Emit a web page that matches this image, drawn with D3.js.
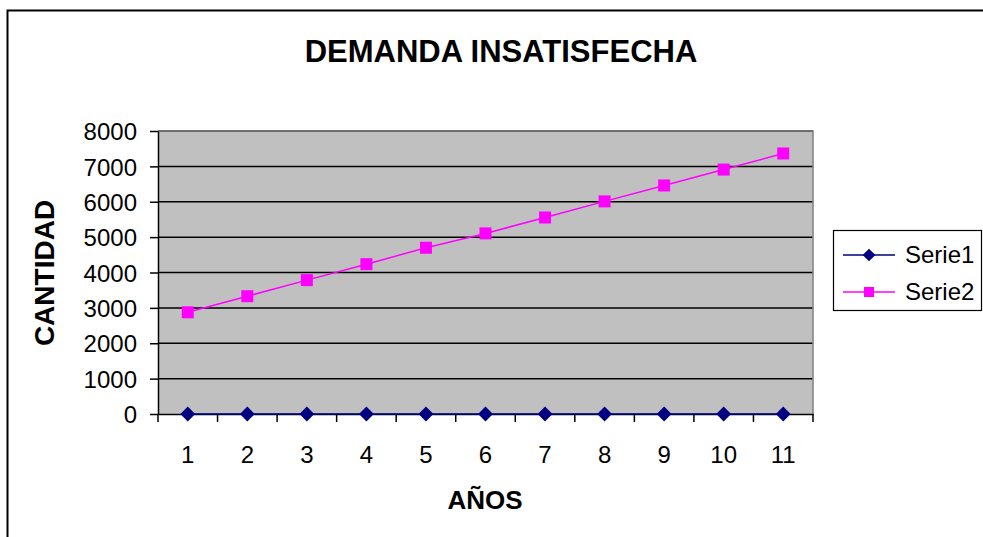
<!DOCTYPE html>
<html><head><meta charset="utf-8">
<script src="https://cdn.jsdelivr.net/npm/d3@7"></script>
<style>body{margin:0;background:#fff}svg{display:block;font-family:"Liberation Sans",Arial,sans-serif}</style>
</head><body><svg id="c" width="983" height="537"></svg>
<script>
const categories = [1,2,3,4,5,6,7,8,9,10,11];
const serie1 = [0,0,0,0,0,0,0,0,0,0,0];
const serie2 = [2875,3330,3785,4235,4700,5105,5555,6010,6460,6910,7365];
const yTicks = [0,1000,2000,3000,4000,5000,6000,7000,8000];
const seriesNames = ["Serie1","Serie2"];

const FF = "Liberation Sans, Arial, sans-serif";
const svg = d3.select("#c");
svg.append("rect").attr("x",7.5).attr("y",10.5).attr("width",1000).attr("height",600)
  .attr("fill","#fff").attr("stroke","#000").attr("stroke-width",2);

const L=158,R=813,T=131,B=414;
const x = d3.scaleBand().domain(categories).range([L,R]);
const y = d3.scaleLinear().domain([0,8000]).range([B,T]);

svg.append("rect").attr("x",L).attr("y",T).attr("width",R-L).attr("height",B-T).attr("fill","#c0c0c0");
// gridlines
svg.append("g").selectAll("line").data(yTicks.filter(d=>d>0)).join("line")
  .attr("x1",L).attr("x2",R).attr("y1",d=>y(d)).attr("y2",d=>y(d))
  .attr("stroke","#000").attr("stroke-width",1.5);
// top/right border gray
svg.append("path").attr("d",`M${L},${T}H${R}V${B}`).attr("fill","none").attr("stroke","#808080").attr("stroke-width",1.5);

// y axis
const ya = svg.append("g").attr("transform",`translate(${L},0)`)
  .call(d3.axisLeft(y).tickValues(yTicks).tickFormat(d3.format("d")).tickSize(8).tickPadding(13).tickSizeOuter(0));
ya.attr("font-size",null).attr("font-family",null);
ya.select(".domain").attr("stroke","#000").attr("stroke-width",1.5);
ya.selectAll(".tick line").attr("stroke","#000").attr("stroke-width",1.5);
ya.selectAll("text").attr("font-size",24).attr("fill","#000").attr("font-family",FF).attr("dy","0.36em");

// x axis
const xa = svg.append("g").attr("transform",`translate(0,${B})`)
  .call(d3.axisBottom(x).tickSize(0).tickPadding(0));
xa.attr("font-size",null).attr("font-family",null);
xa.select(".domain").attr("stroke","#000").attr("stroke-width",1.5);
xa.selectAll("text").attr("font-size",24).attr("fill","#000").attr("font-family",FF).attr("dy",null).attr("y",49);
const bounds = categories.map(c=>x(c)).concat([R]);
xa.append("g").selectAll("line").data(bounds).join("line")
  .attr("x1",d=>d).attr("x2",d=>d).attr("y1",0).attr("y2",8)
  .attr("stroke","#000").attr("stroke-width",1.5);

const cx = d=>x(d)+x.bandwidth()/2;
const line = d3.line().x((d,i)=>cx(categories[i])).y(d=>y(d));
// serie2
svg.append("path").datum(serie2).attr("d",line).attr("fill","none").attr("stroke","#ff00ff").attr("stroke-width",1.5);
svg.append("g").selectAll("rect").data(serie2).join("rect")
  .attr("x",(d,i)=>cx(categories[i])-6).attr("y",d=>y(d)-6).attr("width",12).attr("height",12).attr("fill","#ff00ff");
// serie1
svg.append("path").datum(serie1).attr("d",line).attr("fill","none").attr("stroke","#000080").attr("stroke-width",1.5);
svg.append("g").selectAll("path").data(serie1).join("path")
  .attr("transform",(d,i)=>`translate(${cx(categories[i])},${y(d)}) rotate(45)`)
  .attr("d",d3.symbol().type(d3.symbolSquare).size(110)).attr("fill","#000080");

// titles
svg.append("text").attr("x",501).attr("y",62).attr("text-anchor","middle").attr("font-size",31).attr("font-weight","bold").text("DEMANDA INSATISFECHA");
svg.append("text").attr("transform","translate(54,273) rotate(-90)").attr("text-anchor","middle").attr("font-size",28).attr("font-weight","bold").text("CANTIDAD");
svg.append("text").attr("x",485).attr("y",509).attr("text-anchor","middle").attr("font-size",26).attr("font-weight","bold").text("AÑOS");

// legend
const lg = svg.append("g");
lg.append("rect").attr("x",833.5).attr("y",230.5).attr("width",148).attr("height",80).attr("fill","#fff").attr("stroke","#000").attr("stroke-width",1.2);
const colors=["#000080","#ff00ff"];
seriesNames.forEach((n,i)=>{
  const yy = 255 + i*37;
  lg.append("line").attr("x1",843).attr("x2",895).attr("y1",yy).attr("y2",yy).attr("stroke",colors[i]).attr("stroke-width",1.5);
  if(i===0) lg.append("path").attr("transform",`translate(869,${yy}) rotate(45)`).attr("d",d3.symbol().type(d3.symbolSquare).size(80)).attr("fill",colors[i]);
  else lg.append("rect").attr("x",864).attr("y",yy-5).attr("width",10).attr("height",10).attr("fill",colors[i]);
  lg.append("text").attr("x",905).attr("y",yy+8).attr("font-size",24).text(n);
});
</script></body></html>
